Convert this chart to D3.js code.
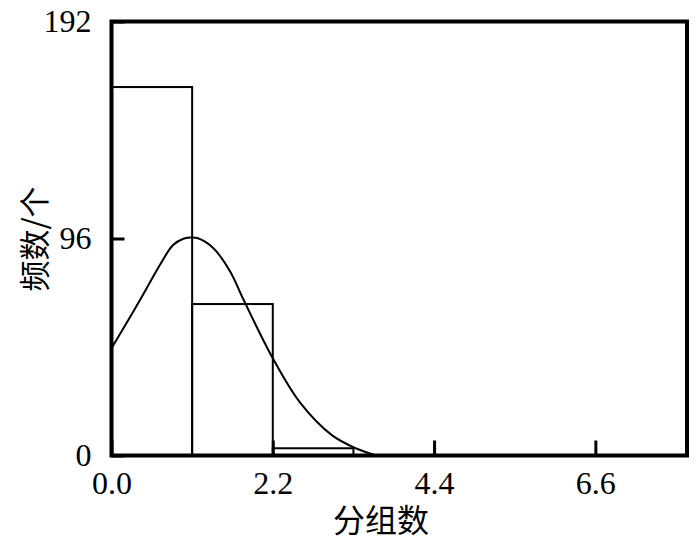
<!DOCTYPE html>
<html>
<head>
<meta charset="utf-8">
<script src="https://cdn.jsdelivr.net/npm/d3@7"></script>
<style>
  body { margin: 0; background: #fff; }
  svg { display: block; }
</style>
</head>
<body>
<div id="chart"></div>
<script>
"use strict";
// histogram bins (group bounds) and counts
const binStart = [0.0, 1.1, 2.2];
const binEnd = [1.1, 2.2, 3.3];
const binCount = [163, 67, 3.2];
// fitted curve
const curveX = [0.0, 0.29, 0.48, 0.66, 0.84, 0.98, 1.07, 1.17, 1.39, 1.62, 1.8, 2.2, 2.57, 3.01, 3.34, 3.61];
const curveY = [47.4, 63.3, 74, 84.3, 93.1, 95.9, 96.4, 96.2, 91.7, 81.3, 69, 43, 23.5, 8.9, 3.1, 0];
const xTicks = [0, 2.2, 4.4, 6.6];
const yTicks = [0, 96, 192];

const size = { width: 700, height: 549, left: 111.5, right: 687, top: 21.5, bottom: 455.5 };
const numFont = "'Liberation Serif', 'DejaVu Serif', serif";
const cjkFont = "'Noto Sans CJK SC', sans-serif";

const svg = d3.select("#chart").append("svg")
    .attr("width", size.width)
    .attr("height", size.height);

const x = d3.scaleLinear().domain([0, 7.85]).range([size.left, size.right]);
const y = d3.scaleLinear().domain([0, 192]).range([size.bottom, size.top]);

// bars
const bins = binStart.map((s, i) => ({ s: s, e: binEnd[i], n: binCount[i] }));
svg.selectAll(".bar")
    .data(bins)
    .enter().append("rect")
    .attr("class", "bar")
    .attr("x", d => x(d.s))
    .attr("y", d => y(d.n))
    .attr("width", d => x(d.e) - x(d.s))
    .attr("height", d => y(0) - y(d.n))
    .attr("fill", "none")
    .attr("stroke", "#000")
    .attr("stroke-width", 2);

// curve
const line = d3.line()
    .x(d => x(d[0]))
    .y(d => y(d[1]))
    .curve(d3.curveCatmullRom.alpha(0.5));
svg.append("path")
    .datum(curveX.map((v, i) => [v, curveY[i]]))
    .attr("d", line)
    .attr("fill", "none")
    .attr("stroke", "#000")
    .attr("stroke-width", 2);

// axes
const xAxis = d3.axisBottom(x)
    .tickValues(xTicks)
    .tickFormat(d3.format(".1f"))
    .tickSizeInner(-15)
    .tickSizeOuter(0)
    .tickPadding(16);
const gx = svg.append("g")
    .attr("transform", "translate(0," + size.bottom + ")")
    .call(xAxis);

const yAxis = d3.axisLeft(y)
    .tickValues(yTicks)
    .tickSizeInner(-13)
    .tickSizeOuter(0)
    .tickPadding(20);
const gy = svg.append("g")
    .attr("transform", "translate(" + size.left + ",0)")
    .call(yAxis);

[gx, gy].forEach(g => {
    g.select(".domain").remove();
    g.selectAll(".tick line").attr("stroke", "#000").attr("stroke-width", 3);
    g.selectAll(".tick text")
        .attr("fill", "#000")
        .style("font-family", numFont)
        .style("font-size", "32px");
});

// frame
svg.append("rect")
    .attr("x", size.left)
    .attr("y", size.top)
    .attr("width", size.right - size.left)
    .attr("height", size.bottom - size.top)
    .attr("fill", "none")
    .attr("stroke", "#000")
    .attr("stroke-width", 4);

// titles
svg.append("text")
    .attr("x", 381)
    .attr("y", 532)
    .attr("text-anchor", "middle")
    .style("font-family", cjkFont)
    .style("font-size", "32px")
    .text("分组数");

svg.append("text")
    .attr("transform", "translate(46,239) rotate(-90)")
    .attr("text-anchor", "middle")
    .style("font-family", cjkFont)
    .style("font-size", "31px")
    .text("频数/个");
</script>
</body>
</html>
